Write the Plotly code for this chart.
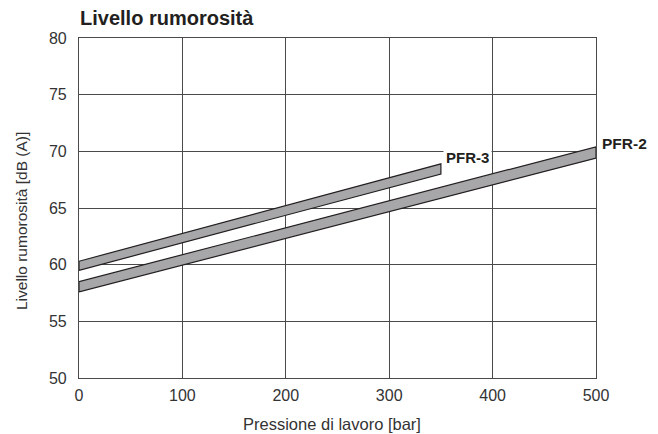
import plotly.graph_objects as go

# Data
series_names = ["PFR-3", "PFR-2"]
pressure_start = [0, 0]
pressure_end = [350, 500]
noise_low_start = [59.5, 57.6]
noise_high_start = [60.3, 58.5]
noise_low_end = [68.0, 69.4]
noise_high_end = [68.9, 70.4]

x_ticks = [0, 100, 200, 300, 400, 500]
y_ticks = [50, 55, 60, 65, 70, 75, 80]

W, H = 650, 426

fig = go.Figure()
for i, name in enumerate(series_names):
    xs = [pressure_start[i], pressure_end[i], pressure_end[i], pressure_start[i], pressure_start[i]]
    ys = [noise_low_start[i], noise_low_end[i], noise_high_end[i], noise_high_start[i], noise_low_start[i]]
    fig.add_trace(go.Scatter(
        x=xs, y=ys, mode="lines", fill="toself",
        fillcolor="#a7a7a9", line=dict(color="#231f20", width=1.2),
        name=name, showlegend=False, hoverinfo="skip"))

# Labels
fig.add_annotation(x=pressure_end[0], y=noise_high_end[0], text="<b>PFR-3</b>",
                   showarrow=False, xanchor="left", yanchor="bottom",
                   xshift=2, yshift=-5, bgcolor="white", borderpad=2,
                   font=dict(family="Liberation Sans, Arial", size=15, color="#231f20"))
fig.add_annotation(x=pressure_end[1], y=noise_high_end[1], text="<b>PFR-2</b>",
                   showarrow=False, xanchor="left", yanchor="middle",
                   xshift=4, yshift=3,
                   font=dict(family="Liberation Sans, Arial", size=15.5, color="#231f20"))

# Axis titles (placed as text)
fig.add_annotation(x=-0.110, y=0.462, xref="paper", yref="paper",
                   text="Livello rumorosità [dB (A)]", textangle=-90,
                   showarrow=False, xanchor="center", yanchor="middle",
                   font=dict(family="Liberation Sans, Arial", size=15.5, color="#333333"))
fig.add_annotation(x=0.489, y=-0.135, xref="paper", yref="paper",
                   text="Pressione di lavoro [bar]",
                   showarrow=False, xanchor="center", yanchor="middle",
                   font=dict(family="Liberation Sans, Arial", size=16.5, color="#333333"))

fig.update_layout(
    width=W, height=H,
    margin=dict(l=71, r=62, t=30, b=56),
    plot_bgcolor="white", paper_bgcolor="white",
    font=dict(family="Liberation Sans, Arial", color="#231f20"),
    title=dict(text="<b>Livello rumorosità</b>", x=72/W, xanchor="left",
               y=1 - 10/H, yanchor="middle",
               font=dict(size=20, color="#231f20")),
    showlegend=False,
)
fig.update_xaxes(range=[0, 500], tickvals=x_ticks, showgrid=True,
                 gridcolor="#4a4a4a", gridwidth=1,
                 showline=True, linecolor="#4a4a4a", linewidth=1.2, mirror=True,
                 ticks="", zeroline=False, ticklabelstandoff=3, automargin=False,
                 tickfont=dict(size=16, color="#333333"))
fig.update_yaxes(range=[50, 80], tickvals=y_ticks, showgrid=True,
                 gridcolor="#4a4a4a", gridwidth=1,
                 showline=True, linecolor="#4a4a4a", linewidth=1.2, mirror=True,
                 ticks="", zeroline=False, ticklabelstandoff=8, automargin=False,
                 tickfont=dict(size=16, color="#333333"))

fig.write_html("out.html")
